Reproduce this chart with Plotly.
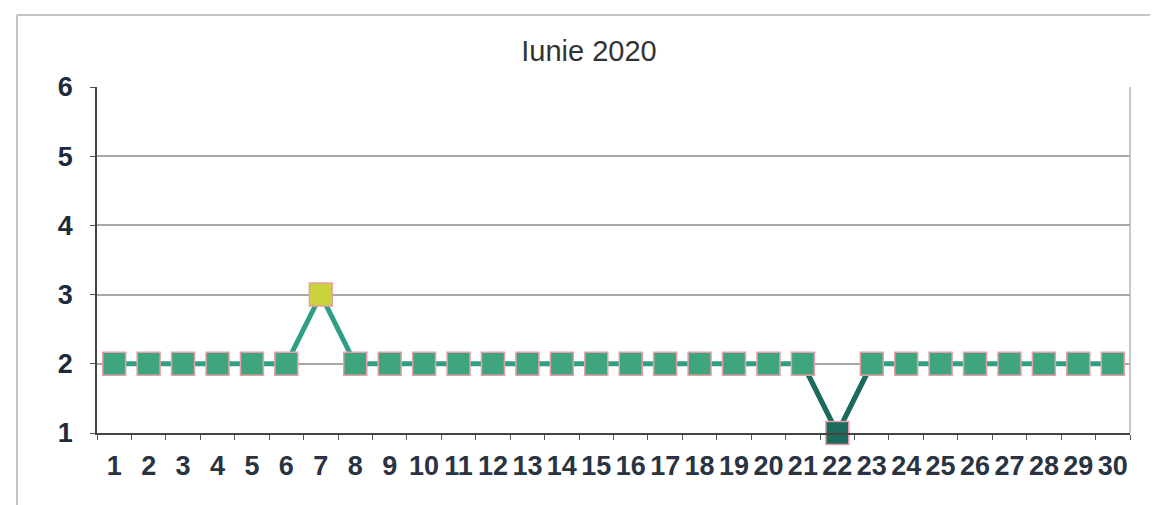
import plotly.graph_objects as go

days = [str(d) for d in range(1, 31)]
values = [2, 2, 2, 2, 2, 2, 3, 2, 2, 2, 2, 2, 2, 2, 2, 2, 2, 2, 2, 2, 2, 1, 2, 2, 2, 2, 2, 2, 2, 2]
marker_colors = ["#3fa57f"] * 30
marker_colors[6] = "#c9d23c"
marker_colors[21] = "#1e6a5c"
title_text = "Iunie 2020"

W, H = 1150, 497
L, R, T, B = 89, 28, 79, 72
pw, ph = W - L - R, H - T - B

def px(fx):
    return (fx - L) / pw

def py(fy):
    return (H - B - fy) / ph

fig = go.Figure()
fig.add_trace(go.Scatter(
    x=days, y=values, mode="lines",
    line=dict(color="#2f9f84", width=5),
    cliponaxis=False, showlegend=False, hoverinfo="skip"))
fig.add_trace(go.Scatter(
    x=days[20:23], y=values[20:23], mode="lines",
    line=dict(color="#1e6a5c", width=5),
    cliponaxis=False, showlegend=False, hoverinfo="skip"))
fig.add_trace(go.Scatter(
    x=days, y=values, mode="markers",
    marker=dict(symbol="square", size=23, color=marker_colors,
                line=dict(color="#e8a0a8", width=1.5)),
    cliponaxis=False, showlegend=False))

frame = dict(type="line", xref="paper", yref="paper",
             line=dict(color="#c4c4c4", width=2), layer="below")
shapes = [
    dict(frame, x0=px(9), x1=px(W), y0=py(7), y1=py(7)),
    dict(frame, x0=px(9), x1=px(9), y0=py(7), y1=py(H)),
    dict(frame, x0=1, x1=1, y0=0, y1=1, line=dict(color="#c8c8c8", width=2)),
]

fig.update_layout(
    width=W, height=H,
    margin=dict(l=L, r=R, t=T, b=B, autoexpand=False),
    paper_bgcolor="white", plot_bgcolor="white",
    title=dict(text=title_text, x=581 / W, xanchor="center", y=1 - 43 / H, yanchor="middle",
               font=dict(family="Liberation Sans, Arial", size=29, color="#333333")),
    font=dict(family="Liberation Sans, Arial", color="#222222"),
    shapes=shapes,
)
fig.update_xaxes(
    type="category", range=[-0.5, 29.5], automargin=False,
    showgrid=False, showline=True, linecolor="#444444", linewidth=1.5,
    ticks="outside", tickson="boundaries", ticklen=5, tickcolor="#555555",
    ticklabelstandoff=8, tickangle=0,
    tickfont=dict(size=27, color="#2a3342", weight="bold"))
fig.update_yaxes(
    range=[1, 6], dtick=1, tick0=1, automargin=False,
    showgrid=True, gridcolor="#a8a8a8", gridwidth=1.5,
    showline=True, linecolor="#444444", linewidth=1.5,
    ticks="outside", ticklen=5, tickcolor="#555555",
    ticklabelstandoff=12, zeroline=False,
    tickfont=dict(size=27, color="#1f2a3a", family="Liberation Sans, Arial", weight="bold"))

fig.write_html("out.html")
